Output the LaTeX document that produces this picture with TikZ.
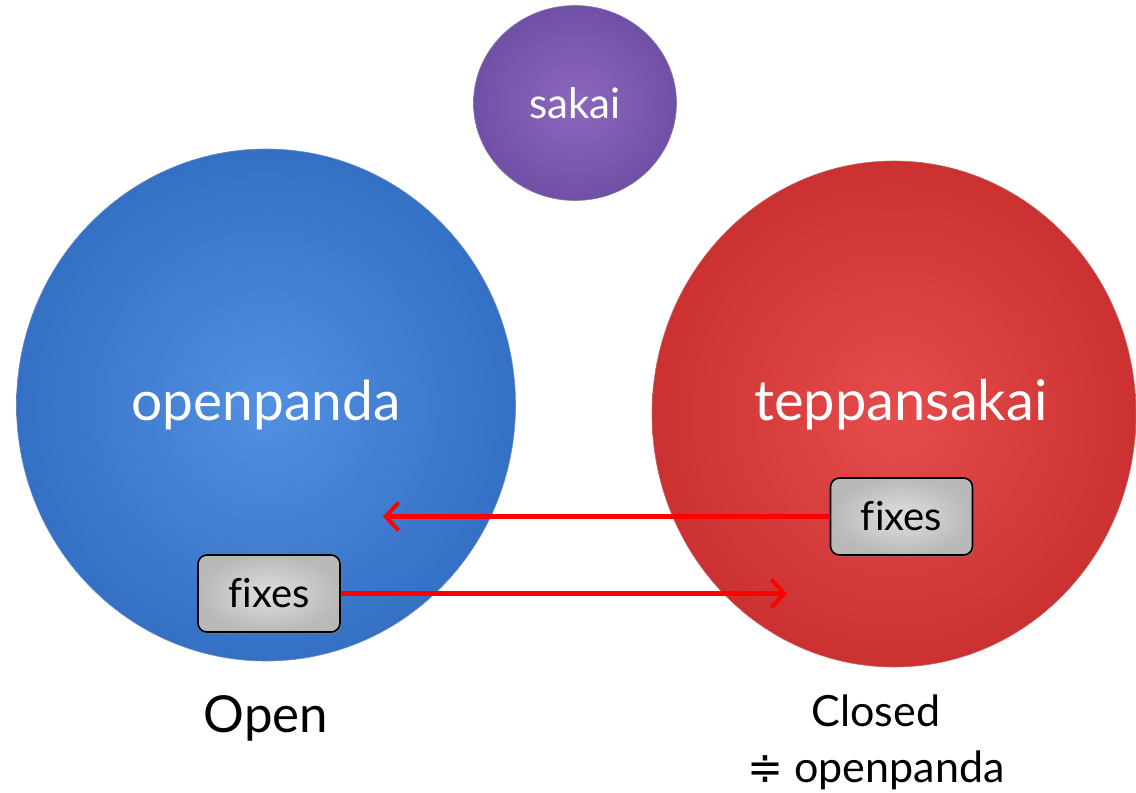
\documentclass[tikz,border=0pt]{standalone}
\usepackage{fontspec}
\setmainfont{Lato}[Ligatures=NoCommon]
\newfontfamily\symfont{DejaVu Sans}
\usetikzlibrary{arrows.meta,shadows,shapes.geometric}
\definecolor{blueIn}{HTML}{5290E2}
\definecolor{blueOut}{HTML}{3470C4}
\definecolor{redIn}{HTML}{E64C4C}
\definecolor{redOut}{HTML}{CB3131}
\definecolor{purIn}{HTML}{8C68BD}
\definecolor{purOut}{HTML}{7050A6}
\definecolor{arrRed}{HTML}{FF0000}
\begin{document}
\begin{tikzpicture}[x=1pt,y=-1pt,
  ball/.style={ellipse, inner sep=0pt, text=white},
  fixbox/.style={draw=black, line width=1.6pt, rounded corners=9pt,
    minimum width=142pt, minimum height=77pt, inner sep=0pt,
    inner color=gray!25, outer color=gray!55,
    font=\fontsize{40}{46}\selectfont,
    drop shadow={shadow xshift=1.5pt, shadow yshift=-2pt, opacity=0.45}},
  arr/.style={draw=arrRed, line width=4.5pt,
    -{Straight Barb[length=13pt, width=28pt, line width=4pt]}}]
\useasboundingbox (0,0) rectangle (1136,793);
\node[ball, minimum width=499pt, minimum height=512pt,
  inner color=blueIn, outer color=blueOut, draw=blueOut!80!black!70, line width=0.6pt,
  font=\fontsize{55}{60}\selectfont] (op) at (266,405) {openpanda};
\node[ball, minimum width=484pt, minimum height=506pt,
  inner color=redIn, outer color=redOut, draw=redOut!80!black!70, line width=0.6pt] (tp) at (894,414) {};
\node[text=white, font=\fontsize{56}{60}\selectfont] (tptext) at (901,405) {teppansakai};
\node[ball, minimum width=203pt, minimum height=195pt,
  inner color=purIn, outer color=purOut, draw=purOut!80!black!70, line width=0.6pt,
  font=\fontsize{42}{46}\selectfont] (sk) at (575,103) {sakai};
\node[fixbox] (fl) at (269,593.5) {fixes};
\node[fixbox] (fr) at (901.5,516.5) {fixes};
\coordinate (ax1) at (383,516.5);
\coordinate (ax2) at (787,593.5);
\draw[arr] (fr.west) -- (ax1);
\draw[arr] (fl.east) -- (ax2);
\node[font=\fontsize{51}{56}\selectfont] (open) at (266,718) {Open};
\node[align=center, font=\fontsize{43}{56}\selectfont] (closed) at (876,742)
  {Closed\\{\symfont ≑} openpanda};
\end{tikzpicture}
\end{document}
